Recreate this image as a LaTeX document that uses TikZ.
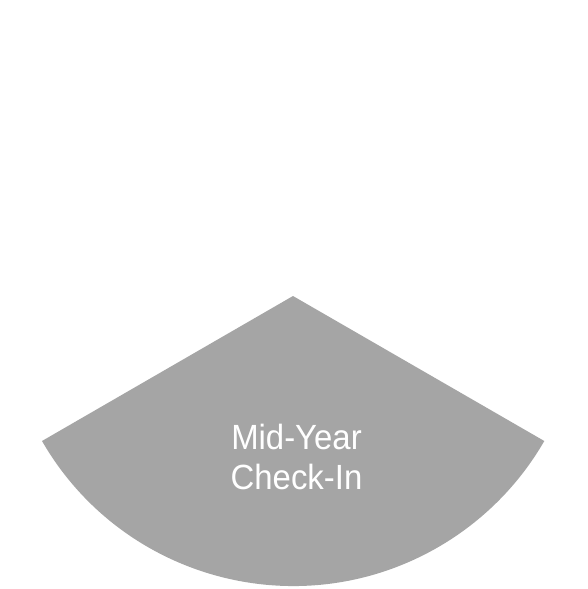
\documentclass[tikz,border=0pt]{standalone}
\usepackage{fontspec}
\setmainfont{Liberation Sans}
\definecolor{sectorgray}{HTML}{A5A5A5}
\begin{document}
\begin{tikzpicture}[x=1pt,y=-1pt,
  sector/.style={fill=sectorgray,draw=none},
  label/.style={text=white,font=\fontsize{35}{40}\selectfont,align=center,inner sep=0pt}]
\useasboundingbox (0,0) rectangle (587,589);
\fill[white] (0,0) rectangle (587,589);
\coordinate (apex) at (293,296);
\path[sector] (apex) -- (42,441) arc[start angle=150,end angle=30,radius=290] -- cycle;
\node[label] (txt) at (296.5,457) {\addfontfeature{FakeStretch=0.94}Mid-Year\\\addfontfeature{FakeStretch=0.94}Check-In};
\end{tikzpicture}
\end{document}
